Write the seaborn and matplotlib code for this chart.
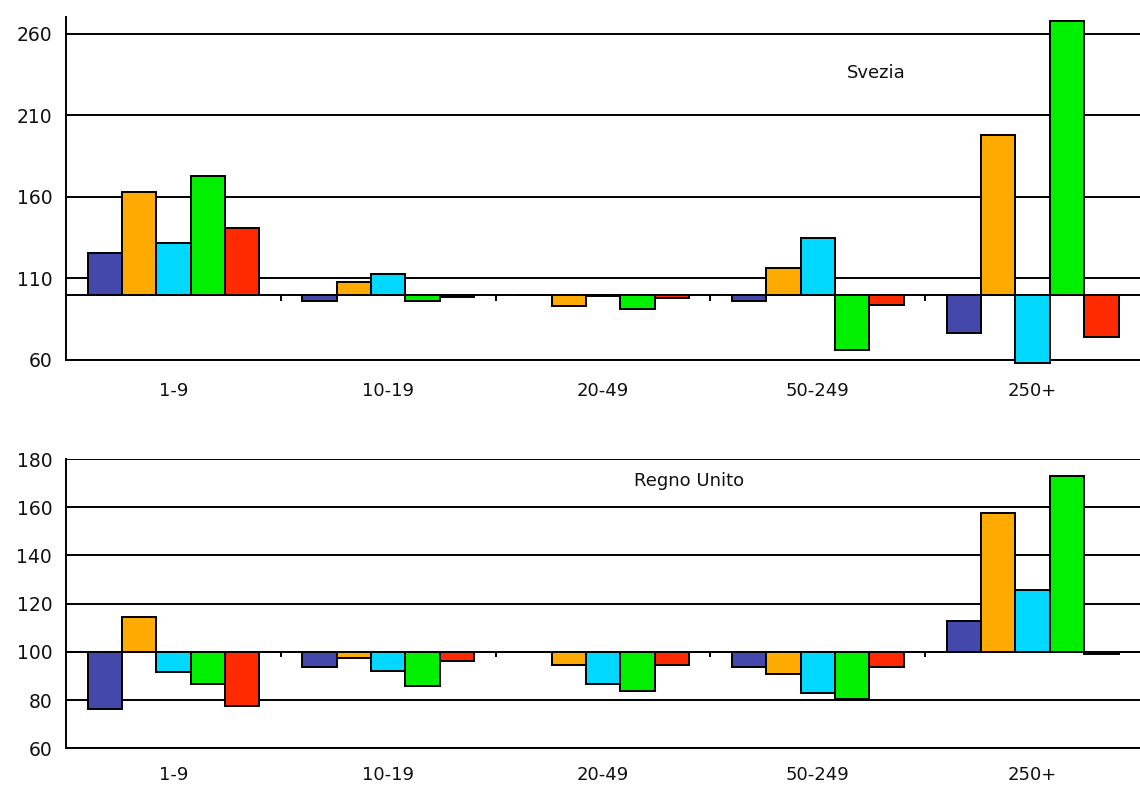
import pandas as pd
import matplotlib
matplotlib.use("Agg")
import matplotlib.pyplot as plt
import seaborn as sns
from matplotlib.ticker import FuncFormatter

categories = ["1-9", "10-19", "20-49", "50-249", "250+"]
series = ["Serie 1", "Serie 2", "Serie 3", "Serie 4", "Serie 5"]
colors = ["#4448AA", "#FFAA00", "#00D8FF", "#00F000", "#FF2A00"]

# index values (base 100), one list per series, in category order
svezia = {
    "Serie 1": [125.5, 96.2, 100.0, 96.2, 76.5],
    "Serie 2": [162.8, 108.0, 92.8, 116.2, 197.6],
    "Serie 3": [131.6, 112.4, 99.2, 134.6, 58.0],
    "Serie 4": [173.0, 96.3, 91.5, 65.9, 267.5],
    "Serie 5": [140.7, 98.8, 98.0, 93.8, 74.3],
}
regno_unito = {
    "Serie 1": [76.4, 93.8, 100.0, 93.8, 112.8],
    "Serie 2": [114.3, 97.3, 94.7, 90.7, 157.8],
    "Serie 3": [91.7, 92.2, 86.8, 82.9, 125.7],
    "Serie 4": [86.8, 86.0, 83.6, 80.3, 172.8],
    "Serie 5": [77.4, 96.2, 94.7, 93.8, 99.3],
}
BASE = 100


def to_long(values):
    rows = []
    for s in series:
        for c, v in zip(categories, values[s]):
            rows.append({"classe": c, "serie": s, "delta": v - BASE})
    return pd.DataFrame(rows)


def draw(ax, values, ylim, yticks, title, title_xy, xpad):
    df = to_long(values)
    sns.barplot(data=df, x="classe", y="delta", hue="serie", order=categories,
                hue_order=series, palette=colors, width=0.8, saturation=1,
                edgecolor="black", linewidth=1.4, legend=False, ax=ax, zorder=3,
                clip_on=False)
    ax.set_xlim(-0.5, len(categories) - 0.5)
    ax.set_ylim(ylim[0] - BASE, ylim[1] - BASE)
    ax.set_yticks([t - BASE for t in yticks])
    ax.yaxis.set_major_formatter(FuncFormatter(lambda v, p: f"{v + BASE:.0f}"))
    ax.grid(axis="y", color="black", linewidth=1.4, zorder=0)
    ax.grid(axis="x", visible=False)
    ax.axhline(0, color="black", linewidth=1.4, zorder=2)
    # small ticks on the base line between categories
    span = (ylim[1] - ylim[0]) * 0.018
    ax.vlines([i + 0.5 for i in range(len(categories) - 1)], -span, 0,
              color="black", linewidth=1.4, zorder=2)
    for side in ["top", "right"]:
        ax.spines[side].set_visible(False)
    for side in ["left", "bottom"]:
        ax.spines[side].set_linewidth(1.4)
        ax.spines[side].set_color("black")
    ax.tick_params(axis="y", length=6, width=1.4, color="black", labelsize=13.5, pad=4)
    ax.tick_params(axis="x", length=0, labelsize=13, pad=xpad)
    ax.set_xlabel("")
    ax.set_ylabel("")
    ax.text(title_xy[0], title_xy[1] - BASE, title, fontsize=13, ha="center", va="center")


sns.set_style("white")
plt.rcParams["font.family"] = ["DejaVu Sans"]
plt.rcParams["text.color"] = "#111111"
plt.rcParams["xtick.color"] = "#111111"
plt.rcParams["ytick.color"] = "#111111"

fig = plt.figure(figsize=(11.4, 7.86), dpi=100)
ax1 = fig.add_axes([0.058, 0.542, 0.942, 0.436])
ax2 = fig.add_axes([0.058, 0.048, 0.942, 0.368])

draw(ax1, svezia, (60, 270), [60, 110, 160, 210, 260], "Svezia", (3.27, 236), 15.5)
draw(ax2, regno_unito, (60, 180), [60, 80, 100, 120, 140, 160, 180], "Regno Unito",
     (2.4, 171), 13)

fig.savefig("out.png", dpi=100)
